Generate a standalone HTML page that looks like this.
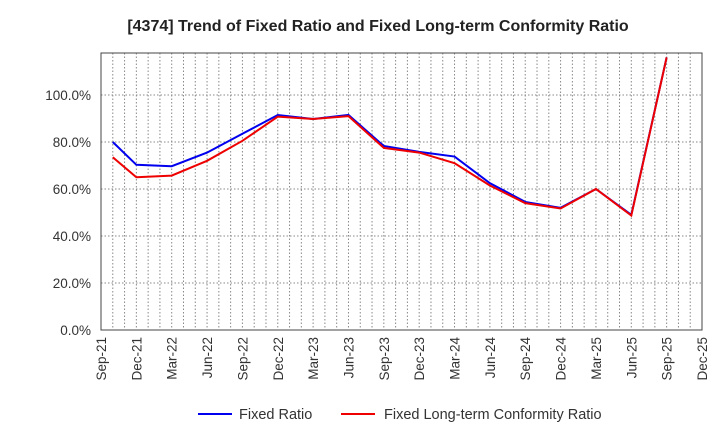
<!DOCTYPE html><html><head><style>body{margin:0;background:#fff;font-family:"Liberation Sans",sans-serif}</style></head><body>
<svg width="720" height="440" xmlns="http://www.w3.org/2000/svg" font-family="Liberation Sans, sans-serif">
<text x="378" y="31" text-anchor="middle" font-size="16" font-weight="bold" fill="#222">[4374]  Trend of Fixed Ratio and Fixed Long-term Conformity Ratio</text>
<g id="g"></g>
<rect x="101" y="53" width="601" height="277" fill="none" stroke="#444" stroke-width="1"/>
<g font-size="13.5" fill="#333" text-anchor="end">
<text x="91" y="335">0.0%</text><text x="91" y="288">20.0%</text><text x="91" y="241">40.0%</text><text x="91" y="194">60.0%</text><text x="91" y="147">80.0%</text><text x="91" y="100">100.0%</text>
</g>
<g id="xl" font-size="13.5" fill="#333"></g>
<polyline id="b" fill="none" stroke="#0000ee" stroke-width="2"/>
<polyline id="r" fill="none" stroke="#ee0000" stroke-width="2"/>
<line x1="198" y1="414" x2="232" y2="414" stroke="#0000ee" stroke-width="2"/>
<text x="239" y="419" font-size="14.5" fill="#333">Fixed Ratio</text>
<line x1="341" y1="414" x2="375" y2="414" stroke="#ee0000" stroke-width="2"/>
<text x="384" y="419" font-size="14.5" fill="#333">Fixed Long-term Conformity Ratio</text>
</svg>
<script>
var ns="http://www.w3.org/2000/svg",g=document.getElementById('g'),xl=document.getElementById('xl');
var L=101,W=601/51;
function X(m){return L+m*W}function Y(v){return 330-v*2.35}
for(var m=1;m<51;m++){var l=document.createElementNS(ns,'line');l.setAttribute('x1',X(m));l.setAttribute('x2',X(m));l.setAttribute('y1',53);l.setAttribute('y2',330);l.setAttribute('stroke','#888');l.setAttribute('stroke-dasharray','1.5,2');g.appendChild(l);}
for(var v=20;v<=100;v+=20){var l=document.createElementNS(ns,'line');l.setAttribute('x1',101);l.setAttribute('x2',702);l.setAttribute('y1',Y(v));l.setAttribute('y2',Y(v));l.setAttribute('stroke','#888');l.setAttribute('stroke-dasharray','1.5,2');g.appendChild(l);}
var labs=['Sep-21','Dec-21','Mar-22','Jun-22','Sep-22','Dec-22','Mar-23','Jun-23','Sep-23','Dec-23','Mar-24','Jun-24','Sep-24','Dec-24','Mar-25','Jun-25','Sep-25','Dec-25'];
labs.forEach(function(s,i){var t=document.createElementNS(ns,'text');var x=X(i*3)+5;t.setAttribute('transform','translate('+x+',337) rotate(-90)');t.setAttribute('text-anchor','end');t.textContent=s;xl.appendChild(t);});
var ms=[1,3,6,9,12,15,18,21,24,27,30,33,36,39,42,45,48];
var b=[80,70.3,69.7,75.5,83.5,91.5,89.8,91.5,78.3,75.8,73.8,62.5,54.5,52,60,49,116];
var r=[73.5,65,65.7,72,80.5,90.8,89.8,91,77.5,75.5,71,61.5,54,51.7,60,48.7,116];
function pts(a){return ms.map(function(m,i){return X(m)+','+Y(a[i])}).join(' ')}
document.getElementById('b').setAttribute('points',pts(b));
document.getElementById('r').setAttribute('points',pts(r));
</script>
</body></html>
